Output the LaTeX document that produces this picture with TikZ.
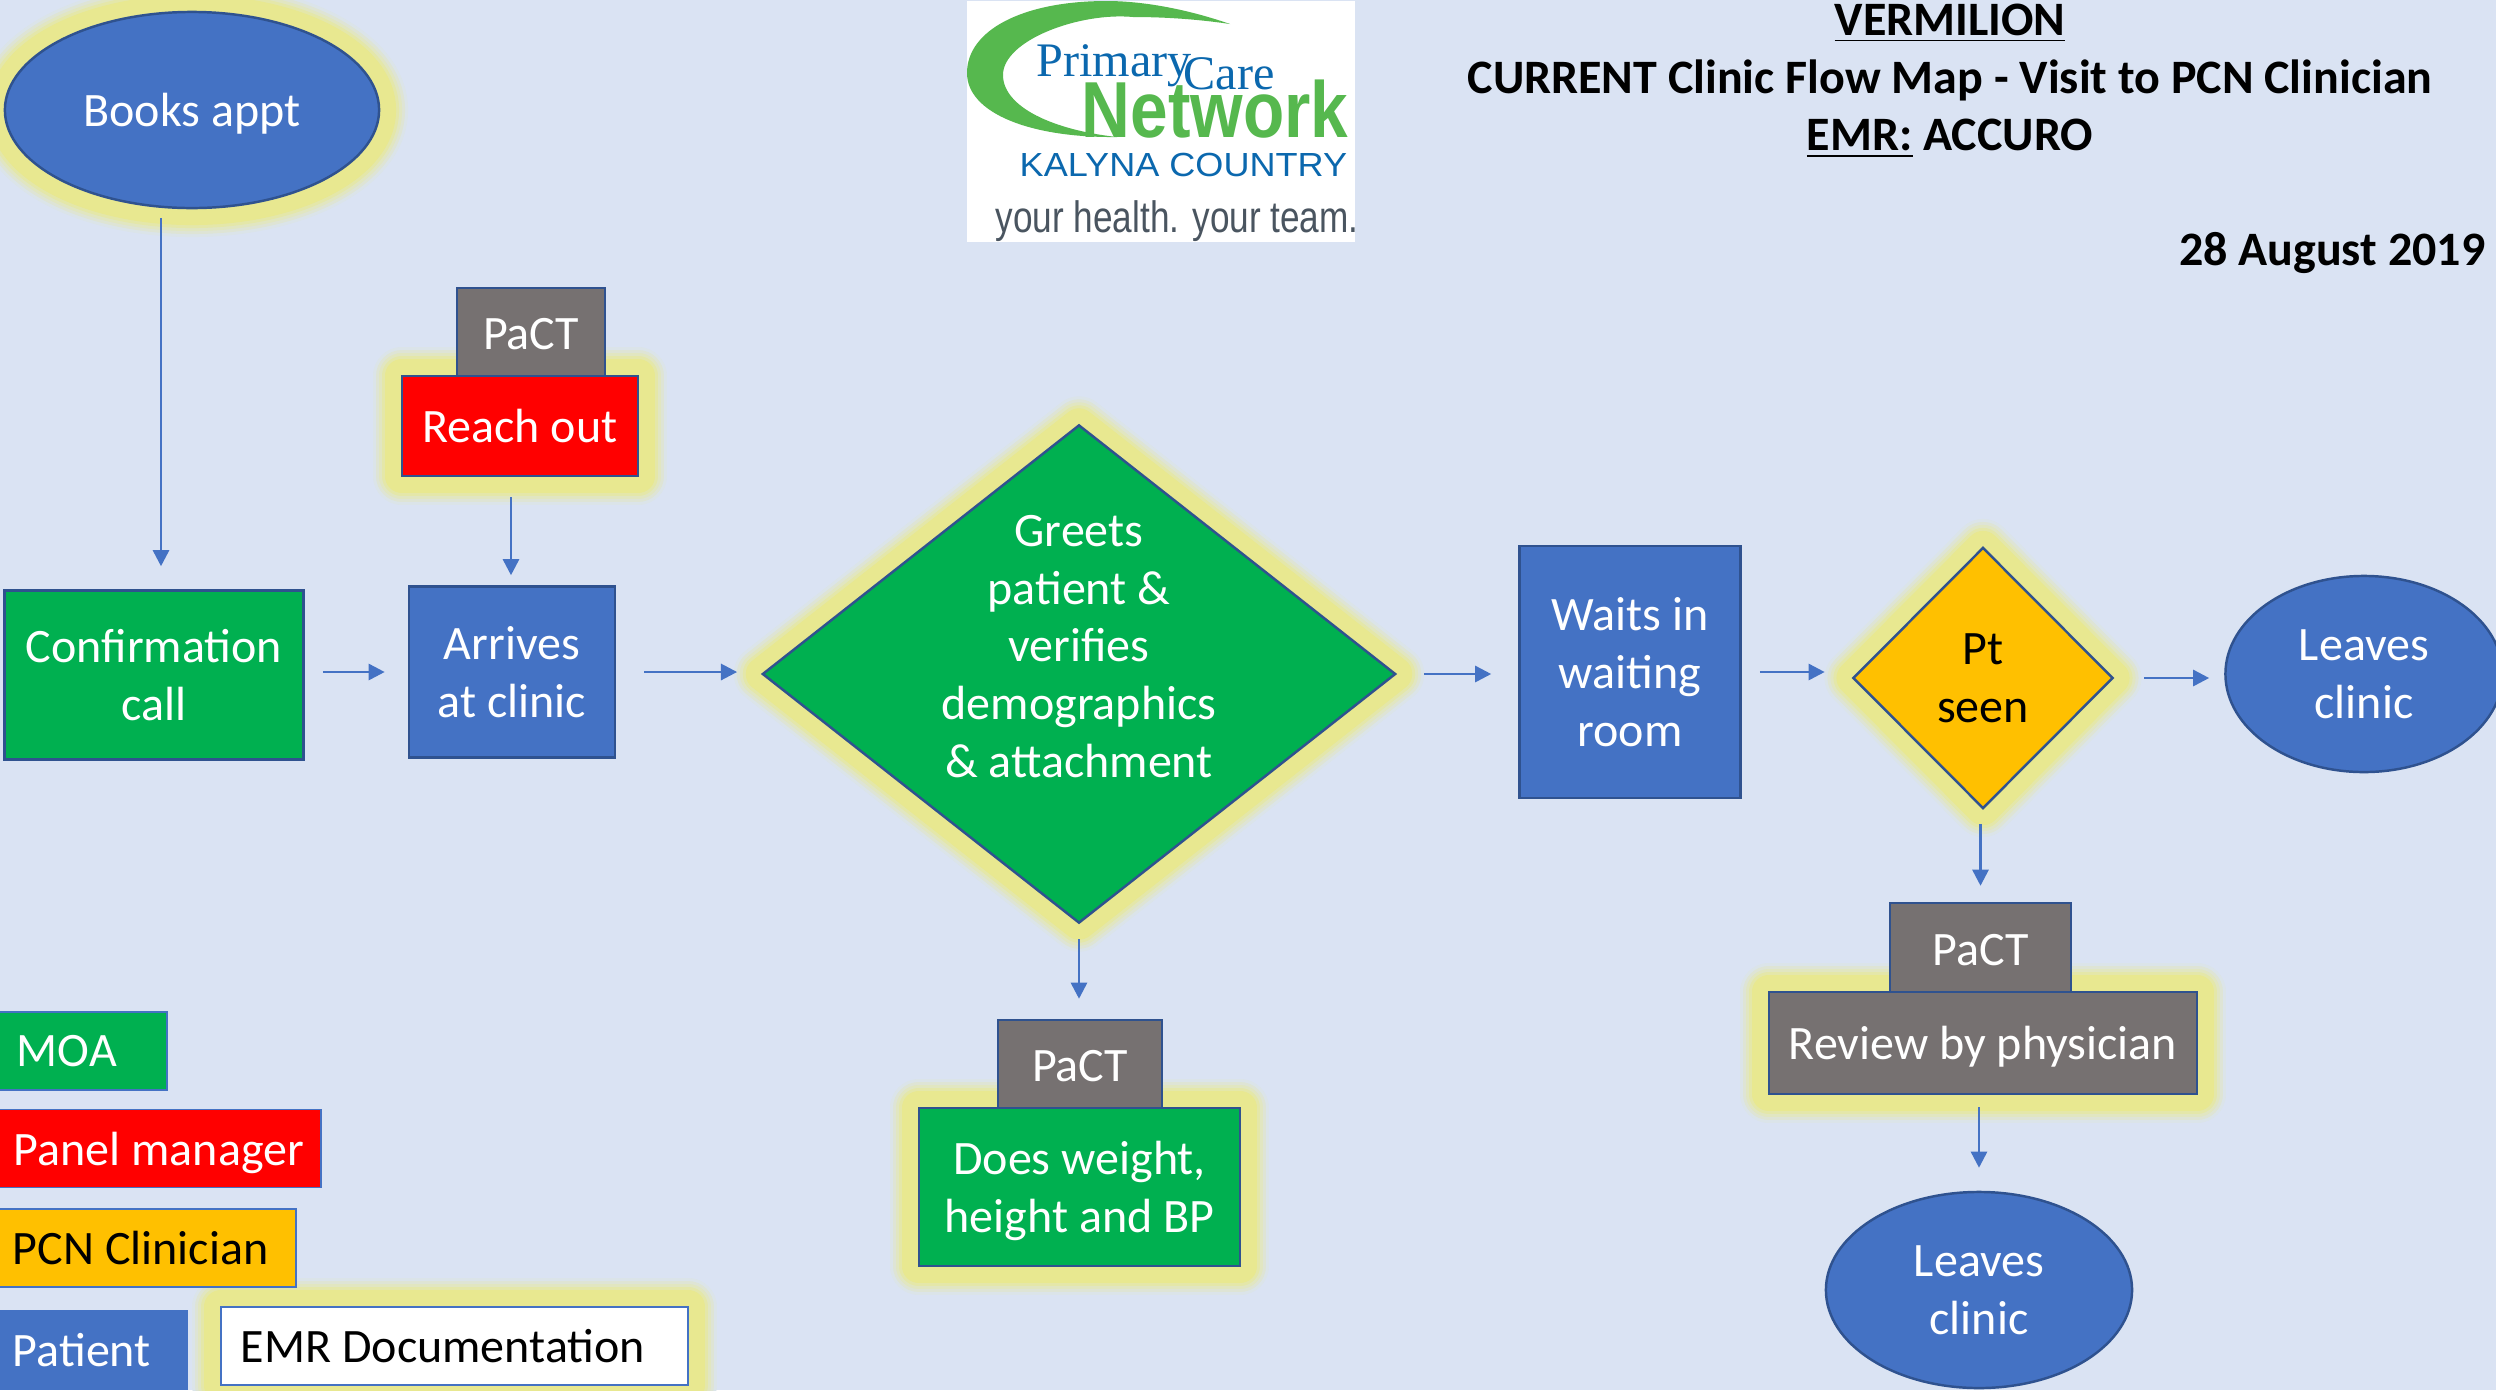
\documentclass[tikz,border=0pt]{standalone}
\usepackage{fontspec}
\setmainfont{Carlito}
\newfontfamily\logoserif{Liberation Serif}
\newfontfamily\logosans{Liberation Sans}
\usetikzlibrary{arrows.meta,shapes.geometric}
\definecolor{bgblue}{HTML}{DAE3F3}
\definecolor{glowyellow}{HTML}{E8E890}
\definecolor{moagreen}{HTML}{00B050}
\definecolor{clinamber}{HTML}{FFC000}
\definecolor{patblue}{HTML}{4472C4}
\definecolor{pactgrey}{HTML}{767171}
\definecolor{rimblue}{HTML}{2F528F}
\definecolor{logogreen}{HTML}{56B84E}
\definecolor{logoblue}{HTML}{0B68AE}
\definecolor{logogrey}{HTML}{4A5560}
\newcommand{\bodyfont}{\fontsize{13.65}{16.4}\selectfont}
\tikzstyle{glow}=[
 preaction={draw=glowyellow!10!bgblue,line width=58*0.01cm,line join=round}
,preaction={draw=glowyellow!30!bgblue,line width=52*0.01cm,line join=round}
,preaction={draw=glowyellow!50!bgblue,line width=46*0.01cm,line join=round}
,preaction={draw=glowyellow!75!bgblue,line width=40*0.01cm,line join=round}
,preaction={draw=glowyellow,line width=34*0.01cm,line join=round}
]
\tikzstyle{box}=[rectangle, draw=rimblue, line width=0.7pt, text=white, font=\bodyfont, align=center, inner sep=0pt]
\tikzstyle{oval}=[ellipse, draw=rimblue, line width=0.7pt, fill=patblue, text=white, font=\bodyfont, align=center, inner sep=0pt]
\tikzstyle{decision}=[diamond, draw=rimblue, line width=0.7pt, font=\bodyfont, align=center, inner sep=0pt]
\tikzstyle{legend}=[rectangle, draw=patblue, line width=0.5pt, font=\bodyfont, align=flush left, anchor=west, text depth=0pt, inner xsep=0.3cm, inner ysep=0pt, minimum height=0.78cm]
\tikzstyle{edge}=[draw=patblue, line width=0.75pt, -{Triangle[length=4.6pt,width=4.6pt]}]
\tikzstyle{logotext}=[inner sep=0pt, anchor=base west]

\begin{document}
\begin{tikzpicture}[x=0.01cm,y=0.01cm]
    \path[use as bounding box,clip] (0,0) rectangle (2496,-1390);
    \fill[bgblue] (0,0) rectangle (2496,-1390);

    % The logo and the heading
    \node[fill=white, minimum width=3.88cm, minimum height=2.41cm, inner sep=0pt] (logobox) at (1161,-121.5) {};
    \fill[logogreen] (1230,-24) .. controls (1180,-6.7) and (1136.7,-1) .. (1106.7,-1)
        .. controls (1023,-1) and (967,-30) .. (967,-73)
        .. controls (967,-113) and (1030,-138) .. (1117,-137)
        .. controls (1053,-130) and (1003,-107) .. (1003,-75)
        .. controls (1003,-40) and (1080,-12) .. (1133,-17)
        .. controls (1170,-17) and (1203,-20) .. (1230,-24) -- cycle;
    \node[logotext, text=logoblue, font=\logoserif\fontsize{13.7}{16}\selectfont] (logoprimary) at (1036,-76) {Primary};
    \node[logotext, text=logoblue, font=\logoserif\fontsize{13.7}{16}\selectfont] (logocare) at (1183,-89) {Care};
    \node[logotext, text=logogreen, font=\logosans\bfseries\fontsize{22.6}{26}\selectfont] (lognetwork) at (1081,-137) {\scalebox{.85}[1]{Network}};
    \node[logotext, text=logoblue, font=\logosans\fontsize{9.5}{12}\selectfont] (logokalyna) at (1019,-176) {\scalebox{1.08}[1]{KALYNA COUNTRY}};
    \node[logotext, text=logogrey, font=\logosans\fontsize{12.5}{15}\selectfont] (logoteam) at (995,-232) {\scalebox{.8}[1]{your health. your team.}};

    \node[font=\bfseries\bodyfont, align=center, inner sep=0pt] (heading) at (1950,-81)
        {\underline{VERMILION}\\ CURRENT Clinic Flow Map - Visit to PCN Clinician\\ \underline{EMR:} ACCURO};
    \node[font=\bfseries\bodyfont, anchor=east, inner sep=0pt] (date) at (2486,-253) {28 August 2019};

    % First the nodes of the flow
    \node[oval, glow, text depth=0pt, minimum width=3.74cm, minimum height=1.96cm] (books) at (192,-110) {Books appt};
    \foreach \pos/\name/\wid/\hei/\col/\txt in {
        {(154,-675)/confirm/2.99/1.69/moagreen/{Confirmation\\call}},
        {(512,-672)/arrives/2.06/1.71/patblue/{Arrives\\at clinic}},
        {(1630,-672)/waits/2.21/2.52/patblue/{Waits in\\waiting\\room}}}
        \node[box, fill=\col, minimum width=\wid cm, minimum height=\hei cm] (\name) at \pos {\txt};

    \node[decision, glow, fill=moagreen, text=white, minimum width=6.33cm, minimum height=4.98cm] (greets) at (1079,-674)
        {\raisebox{0.11cm}[0pt][0pt]{\begin{tabular}{@{}c@{}}Greets\\patient \&\\verifies\\demographics\\\& attachment\end{tabular}}};
    \node[decision, glow, fill=clinamber, minimum width=2.6cm, minimum height=2.61cm] (ptseen) at (1983,-678) {Pt\\seen};
    \node[oval, minimum width=2.77cm, minimum height=1.96cm] (leavesright) at (2364,-674) {Leaves\\clinic};
    \node[oval, minimum width=3.06cm, minimum height=1.96cm] (leavesbottom) at (1979,-1290) {Leaves\\clinic};

    % The tasks with a PaCT tab on top
    \foreach \pos/\name/\wid/\hei/\col/\txt in {
        {(520,-426)/reach/2.36/1.0/red/{Reach out}},
        {(1079.5,-1187)/weight/3.21/1.58/moagreen/{Does weight,\\height and BP}},
        {(1983,-1043)/review/4.28/1.02/pactgrey/{Review by physician}}}
        \node[box, glow, fill=\col, text depth=0pt, minimum width=\wid cm, minimum height=\hei cm] (\name) at \pos {\txt};
    \foreach \pos/\name/\wid/\hei in {
        {(531,-332)/pactreach/1.48/0.88},
        {(1080,-1064)/pactweight/1.64/0.88},
        {(1980.5,-947.5)/pactreview/1.81/0.89}}
        \node[box, fill=pactgrey, text height=0.36cm, minimum width=\wid cm, minimum height=\hei cm] (\name) at \pos {PaCT};

    % The legend
    \node[legend, glow, fill=white, text width=4.27cm, inner xsep=0.2cm] (legemr) at (220,-1346) {EMR Documentation};
    \foreach \pos/\name/\wid/\col/\ink/\txt in {
        {(-14,-1051)/legmoa/1.2/moagreen/white/MOA},
        {(-17,-1148.5)/legpanel/2.77/red/white/{\mbox{Panel manager}}},
        {(-18,-1248)/legclin/2.53/clinamber/black/{\mbox{PCN Clinician}}},
        {(-18,-1350)/legpatient/1.44/patblue/white/Patient}}
        \node[legend, fill=\col, text=\ink, text width=\wid cm] (\name) at \pos {\txt};

    % Connect the nodes with edges
    \coordinate (booksout) at (161,-218);
    \coordinate (reachout) at (511,-497);
    \foreach \source/\dest/\gapa/\gapb in {
        booksout/booksout |- confirm.north/0/23,
        reachout/reachout |- arrives.north/0/10,
        confirm.east |- arrives.west/arrives.west/18/23,
        arrives.east/arrives.east -| greets.west/28/24,
        greets.east/greets.east -| waits.west/27/27,
        waits.east/waits.east -| ptseen.west/18/27,
        ptseen.east/ptseen.east -| leavesright.west/30/15,
        pactreview.north |- ptseen.south/pactreview.north/14/16,
        greets.south/greets.south |- pactweight.north/15/20,
        leavesbottom.north |- review.south/leavesbottom.north/12/23}
        \path[edge, shorten <=\gapa*0.01cm, shorten >=\gapb*0.01cm] (\source) -- (\dest);
\end{tikzpicture}
\end{document}
